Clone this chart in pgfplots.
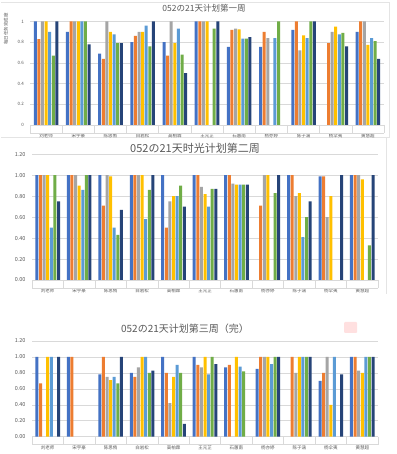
\documentclass[border=0pt]{standalone}
\usepackage{fontspec}
\setmainfont{Noto Sans CJK SC}
\usepackage{pgfplots}
\usepackage{pgfplotstable}
\pgfplotsset{compat=1.18}
\definecolor{c1}{HTML}{4472C4}
\definecolor{c2}{HTML}{ED7D31}
\definecolor{c3}{HTML}{A5A5A5}
\definecolor{c4}{HTML}{FFC000}
\definecolor{c5}{HTML}{5B9BD5}
\definecolor{c6}{HTML}{70AD47}
\definecolor{c7}{HTML}{264478}
\definecolor{txt}{HTML}{595959}
\definecolor{grd}{HTML}{D9D9D9}

\pgfplotstableread{
x a b c d e f g
0 1 0.83 1 1 0.9 0.67 1
1 0.9 1 1 1 1 1 0.78
2 0.69 0.64 1 0.9 0.875 0.79 0.79
3 0.8 0.86 0.9 0.9 0.96 0.76 1
4 0.8 0.67 1 0.79 0.93 0.68 0.5
5 1 1 1 1 nan 0.93 1
6 0.755 0.92 0.93 0.925 0.835 0.835 0.85
7 0.755 0.9 0.84 nan 0.84 1 nan
8 0.92 1 0.72 0.865 0.84 1 1
9 nan 0.79 0.9 0.95 0.875 0.89 0.76
10 0.9 1 1 0.775 0.84 0.81 0.64
}\weekA

\pgfplotstableread{
x a b c d e f g
0 1 1 1 1 0.5 1 0.75
1 1 1 1 0.9 0.86 1 1
2 1 0.71 1 0.99 0.5 0.43 0.67
3 1 1 1 1 0.58 0.86 1
4 1 0.5 0.75 0.8 0.8 0.9 0.7
5 1 1 0.89 0.82 0.7 0.87 0.87
6 1 1 0.92 0.91 0.91 0.91 0.91
7 nan 0.71 1 1 nan 0.83 1
8 1 1 0.8 0.83 0.41 0.6 0.75
9 0.99 0.99 0.6 0.8 nan nan 1
10 1 1 1 0.96 nan 0.33 1
}\weekB

\pgfplotstableread{
x a b c d e f g
0 1 0.67 nan 1 1 nan 1
1 1 1 nan nan nan nan nan
2 0.78 1 0.75 0.71 0.75 0.67 1
3 0.8 0.75 0.87 1 1 0.8 0.83
4 1 0.8 0.42 0.75 0.9 0.8 0.16
5 1 0.9 0.87 1 0.78 1 0.91
6 0.87 0.9 nan 1 0.88 0.82 nan
7 0.85 1 1 1 0.91 1 1
8 nan 1 0.8 1 1 1 1
9 0.7 0.8 1 0.4 1 nan 0.78
10 1 1 0.83 0.8 1 1 1
}\weekC

\pgfplotsset{
  week/.style={
    scale only axis,
    ybar=0.6pt, bar width=3pt,
    xmin=-0.5, xmax=10.5, ymin=0,
    xtick={0,1,2,3,4,5,6,7,8,9,10},
    xticklabels={刘老师,宋宇豪,陈思侑,白岩松,高柏霖,王元芷,石蕙南,杨亦婷,陈子涵,杨伞夷,黄慧超},
    xtick style={draw=none}, ytick style={draw=none},
    axis line style={draw=none},
    ymajorgrids, grid style={grd, line width=0.5pt},
    tick label style={text=txt},
    xticklabel style={font=\fontsize{4.5}{5}\selectfont, yshift=-1.2pt},
    /pgf/number format/assume math mode=true,
    every axis plot/.append style={draw=none},
    clip=false,
  },
}

\newcommand{\bars}[1]{%
  \addplot[fill=c1] table[x=x,y=a] {#1};
  \addplot[fill=c2] table[x=x,y=b] {#1};
  \addplot[fill=c3] table[x=x,y=c] {#1};
  \addplot[fill=c4] table[x=x,y=d] {#1};
  \addplot[fill=c5] table[x=x,y=e] {#1};
  \addplot[fill=c6] table[x=x,y=f] {#1};
  \addplot[fill=c7] table[x=x,y=g] {#1};
  \pgfplotsinvokeforeach{-0.5,0.5,1.5,2.5,3.5,4.5,5.5,6.5,7.5,8.5,9.5,10.5}{
    \draw[grd, line width=0.5pt] (axis cs:##1,0) -- ([yshift=-8pt]axis cs:##1,0);}
  \draw[grd, line width=0.5pt] ([yshift=-8pt]axis cs:-0.5,0) -- ([yshift=-8pt]axis cs:10.5,0);
}

\begin{document}
\begin{tikzpicture}
\useasboundingbox (0,0) rectangle (396pt,454pt);
\fill[white] (0,0) rectangle (396pt,454pt);

% frames
\draw[grd!70, line width=0.4pt] (1pt,452pt) -- (389pt,452pt) -- (389pt,317pt) -- (1pt,317pt);
\draw[grd!70, line width=0.4pt] (386pt,316pt) -- (386pt,160pt);

% chart 1
\begin{axis}[week, at={(30pt,329pt)}, anchor=south west,
  width=354pt, height=103.5pt, ymax=1,
  ytick={0,0.2,0.4,0.6,0.8,1},
  yticklabel style={font=\fontsize{4.5}{5}\selectfont, xshift=-2.5pt}]
\bars{\weekA}
\end{axis}
\node[rotate=90, text=txt, font=\fontsize{4.5}{5}\selectfont] at (6pt,425pt) {每日任务完成度};
\node[text=txt, font=\fontsize{8.5}{9}\selectfont] at (204pt,446pt) {052の21天计划第一周};

% chart 2
\begin{axis}[week, at={(32pt,174pt)}, anchor=south west,
  width=346pt, height=125.7pt, ymax=1.2,
  ytick={0,0.2,0.4,0.6,0.8,1,1.2},
  yticklabel style={font=\fontsize{5.5}{6}\selectfont, xshift=-3pt,
    /pgf/number format/.cd, fixed, fixed zerofill, precision=2}]
\bars{\weekB}
\end{axis}
\node[text=txt, font=\fontsize{11}{12}\selectfont] at (195pt,306pt) {052の21天时光计划第二周};

% chart 3
\begin{axis}[week, at={(32pt,17.3pt)}, anchor=south west,
  width=346pt, height=95.7pt, ymax=1.2,
  ytick={0,0.2,0.4,0.6,0.8,1,1.2},
  yticklabel style={font=\fontsize{5.5}{6}\selectfont, xshift=-3pt,
    /pgf/number format/.cd, fixed, fixed zerofill, precision=2}]
\bars{\weekC}
\end{axis}
\node[text=txt, font=\fontsize{10}{11}\selectfont] at (185pt,125pt) {052の21天计划第三周（完）};
\fill[red!12, rounded corners=1pt] (344pt,121pt) rectangle (357pt,132pt);
\end{tikzpicture}
\end{document}
